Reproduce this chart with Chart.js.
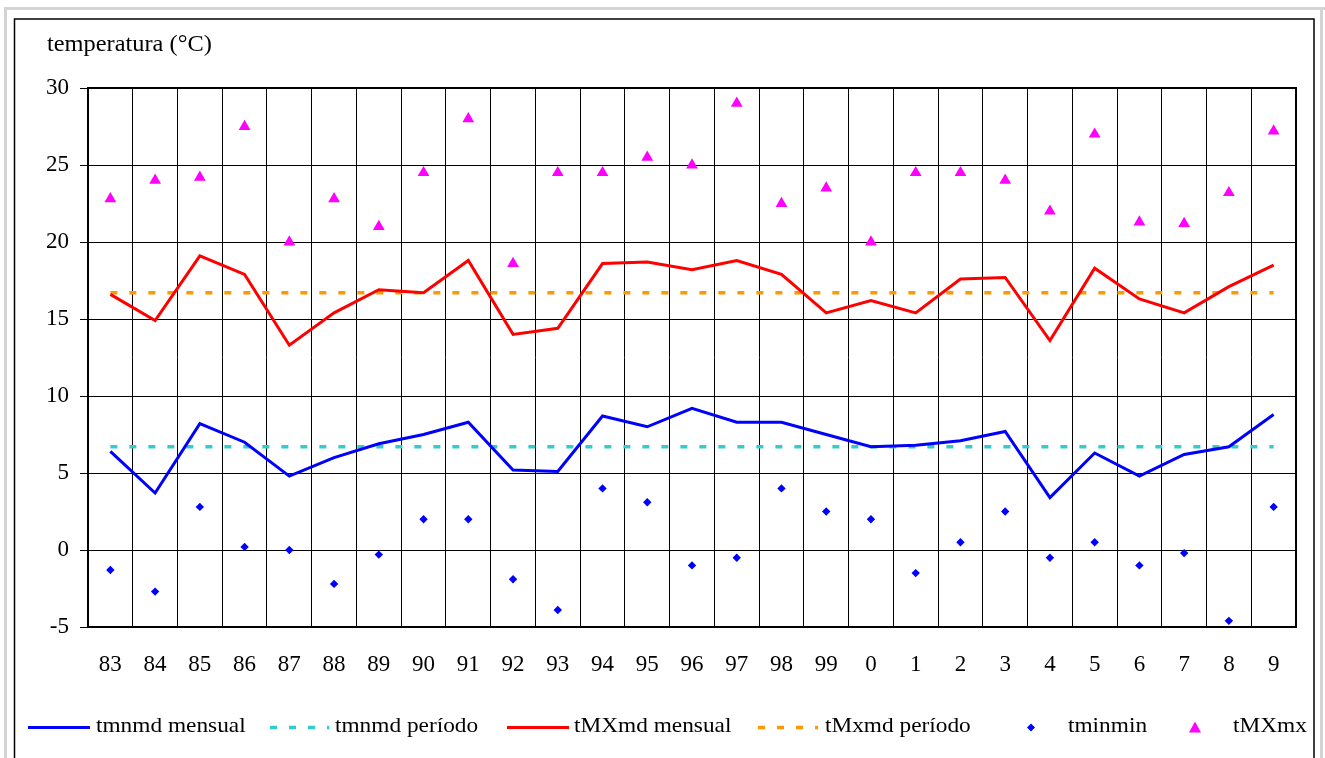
<!DOCTYPE html>
<html>
<head>
<meta charset="utf-8">
<script src="https://cdn.jsdelivr.net/npm/chart.js@4.4.0/dist/chart.umd.min.js"></script>
<style>
html,body{margin:0;padding:0;background:#fff;overflow:hidden}
canvas{display:block}
</style>
</head>
<body>
<canvas id="c" width="1325" height="758"></canvas>
<script>
const categories = ['83','84','85','86','87','88','89','90','91','92','93','94','95','96','97','98','99','0','1','2','3','4','5','6','7','8','9'];
const tmnmdMensual = [6.4, 3.7, 8.2, 7.0, 4.8, 6.0, 6.9, 7.5, 8.3, 5.2, 5.1, 8.7, 8.0, 9.2, 8.3, 8.3, 7.5, 6.7, 6.8, 7.1, 7.7, 3.4, 6.3, 4.8, 6.2, 6.7, 8.8];
const tmnmdPeriodo = [6.7, 6.7, 6.7, 6.7, 6.7, 6.7, 6.7, 6.7, 6.7, 6.7, 6.7, 6.7, 6.7, 6.7, 6.7, 6.7, 6.7, 6.7, 6.7, 6.7, 6.7, 6.7, 6.7, 6.7, 6.7, 6.7, 6.7];
const tMXmdMensual = [16.6, 14.9, 19.1, 17.9, 13.3, 15.4, 16.9, 16.7, 18.8, 14.0, 14.4, 18.6, 18.7, 18.2, 18.8, 17.9, 15.4, 16.2, 15.4, 17.6, 17.7, 13.6, 18.3, 16.3, 15.4, 17.1, 18.5];
const tMxmdPeriodo = [16.7, 16.7, 16.7, 16.7, 16.7, 16.7, 16.7, 16.7, 16.7, 16.7, 16.7, 16.7, 16.7, 16.7, 16.7, 16.7, 16.7, 16.7, 16.7, 16.7, 16.7, 16.7, 16.7, 16.7, 16.7, 16.7, 16.7];
const tminmin = [-1.3, -2.7, 2.8, 0.2, 0.0, -2.2, -0.3, 2.0, 2.0, -1.9, -3.9, 4.0, 3.1, -1.0, -0.5, 4.0, 2.5, 2.0, -1.5, 0.5, 2.5, -0.5, 0.5, -1.0, -0.2, -4.6, 2.8];
const tMXmx = [22.8, 24.0, 24.2, 27.5, 20.0, 22.8, 21.0, 24.5, 28.0, 18.6, 24.5, 24.5, 25.5, 25.0, 29.0, 22.5, 23.5, 20.0, 24.5, 24.5, 24.0, 22.0, 27.0, 21.3, 21.2, 23.2, 27.2];
const yMin = -5, yMax = 30, yStep = 5;
const yTitle = 'temperatura (°C)';
const seriesNames = ['tmnmd mensual', 'tmnmd período', 'tMXmd mensual', 'tMxmd período', 'tminmin', 'tMXmx'];

const FONT = '"Liberation Serif", "Times New Roman", serif';
const COL = {blue:'#0000FF', cyan:'#33CCCC', red:'#FF0000', orange:'#FF9900', magenta:'#FF00FF'};
const DASH = [7, 12];

function wideText(ctx, text, x, y, sx) {
  ctx.save();
  ctx.translate(x, y);
  ctx.scale(sx, 1);
  ctx.fillText(text, 0, 0);
  ctx.restore();
}

const framePlugin = {
  id: 'frame',
  beforeDraw(chart) {
    const ctx = chart.ctx;
    ctx.save();
    ctx.fillStyle = '#fff';
    ctx.fillRect(0, 0, chart.width, chart.height);
    ctx.fillStyle = '#d4d4d4';
    ctx.fillRect(4, 7, chart.width - 4, 3);
    ctx.fillRect(4, 7, 3, chart.height);
    ctx.fillRect(1320, 7, 3, chart.height);
    ctx.strokeStyle = '#000';
    ctx.lineWidth = 1.5;
    ctx.strokeRect(14.5, 19, 1299.5, 800);
    ctx.fillStyle = '#000';
    ctx.font = '23px ' + FONT;
    ctx.textBaseline = 'alphabetic';
    ctx.textAlign = 'left';
    wideText(ctx, yTitle, 47, 51, 1.06);
    ctx.restore();
  },
  beforeDatasetsDraw(chart) {
    const a = chart.chartArea, ctx = chart.ctx;
    ctx.save();
    ctx.strokeStyle = '#000';
    ctx.lineWidth = 2;
    ctx.strokeRect(a.left, a.top, a.right - a.left, a.bottom - a.top);
    ctx.restore();
  },
  afterDraw(chart) {
    const ctx = chart.ctx;
    const y = 727.5;
    const items = [
      {kind:'line', color:COL.blue, dash:[], w:3, x:28, len:62, tx:96},
      {kind:'line', color:COL.cyan, dash:DASH, w:3.5, x:270, len:59, tx:335},
      {kind:'line', color:COL.red, dash:[], w:3, x:507, len:62, tx:574},
      {kind:'line', color:COL.orange, dash:DASH, w:3.5, x:758, len:60, tx:825},
      {kind:'diamond', color:COL.blue, x:1031, tx:1068},
      {kind:'triangle', color:COL.magenta, x:1195, tx:1233}
    ];
    ctx.save();
    items.forEach((it, i) => {
      if (it.kind === 'line') {
        ctx.beginPath();
        ctx.setLineDash(it.dash);
        ctx.strokeStyle = it.color;
        ctx.lineWidth = it.w;
        ctx.moveTo(it.x, y);
        ctx.lineTo(it.x + it.len, y);
        ctx.stroke();
        ctx.setLineDash([]);
      } else if (it.kind === 'diamond') {
        ctx.beginPath();
        ctx.fillStyle = it.color;
        ctx.moveTo(it.x - 4, y); ctx.lineTo(it.x, y - 4); ctx.lineTo(it.x + 4, y); ctx.lineTo(it.x, y + 4);
        ctx.closePath(); ctx.fill();
      } else {
        ctx.beginPath();
        ctx.fillStyle = it.color;
        ctx.moveTo(it.x, y - 6); ctx.lineTo(it.x + 6, y + 5); ctx.lineTo(it.x - 6, y + 5);
        ctx.closePath(); ctx.fill();
      }
      ctx.fillStyle = '#000';
      ctx.font = '22px ' + FONT;
      ctx.textBaseline = 'middle';
      ctx.textAlign = 'left';
      wideText(ctx, seriesNames[i], it.tx, y - 1, 1.06);
    });
    ctx.restore();
  }
};

new Chart(document.getElementById('c'), {
  type: 'line',
  data: {
    labels: categories,
    datasets: [
      {label: seriesNames[0], data: tmnmdMensual, borderColor: COL.blue, borderWidth: 3, pointRadius: 0, tension: 0, order: 4},
      {label: seriesNames[1], data: tmnmdPeriodo, borderColor: COL.cyan, borderWidth: 3.5, borderDash: DASH, borderCapStyle: 'butt', pointRadius: 0, tension: 0, order: 6},
      {label: seriesNames[2], data: tMXmdMensual, borderColor: COL.red, borderWidth: 3, pointRadius: 0, tension: 0, order: 3},
      {label: seriesNames[3], data: tMxmdPeriodo, borderColor: COL.orange, borderWidth: 3.5, borderDash: DASH, borderCapStyle: 'butt', pointRadius: 0, tension: 0, order: 5},
      {label: seriesNames[4], data: tminmin, showLine: false, pointStyle: 'rectRot', pointRadius: 4.2, pointBackgroundColor: COL.blue, pointBorderWidth: 0, borderColor: COL.blue, order: 2},
      {label: seriesNames[5], data: tMXmx, showLine: false, pointStyle: 'triangle', pointRadius: 6.8, pointBackgroundColor: COL.magenta, pointBorderWidth: 0, borderColor: COL.magenta, order: 1}
    ]
  },
  options: {
    responsive: false,
    animation: false,
    events: [],
    layout: {padding: {top: 88, right: 29, left: 0, bottom: 0}},
    plugins: {legend: {display: false}, title: {display: false}, tooltip: {enabled: false}},
    scales: {
      x: {
        type: 'category',
        offset: true,
        grid: {offset: true, color: '#000', lineWidth: 1, drawTicks: false, tickLength: 0},
        border: {display: false},
        ticks: {color: '#000', font: {family: FONT, size: 23}, padding: 24, autoSkip: false, maxRotation: 0, minRotation: 0},
        afterFit(scale) { scale.height = 131; }
      },
      y: {
        min: yMin, max: yMax,
        grid: {color: '#000', lineWidth: 1, drawTicks: true, tickLength: 8},
        border: {display: false},
        ticks: {stepSize: yStep, color: '#000', font: {family: FONT, size: 23}, padding: 11},
        afterFit(scale) { scale.width = 88; }
      }
    }
  },
  plugins: [framePlugin]
});
</script>
</body>
</html>
